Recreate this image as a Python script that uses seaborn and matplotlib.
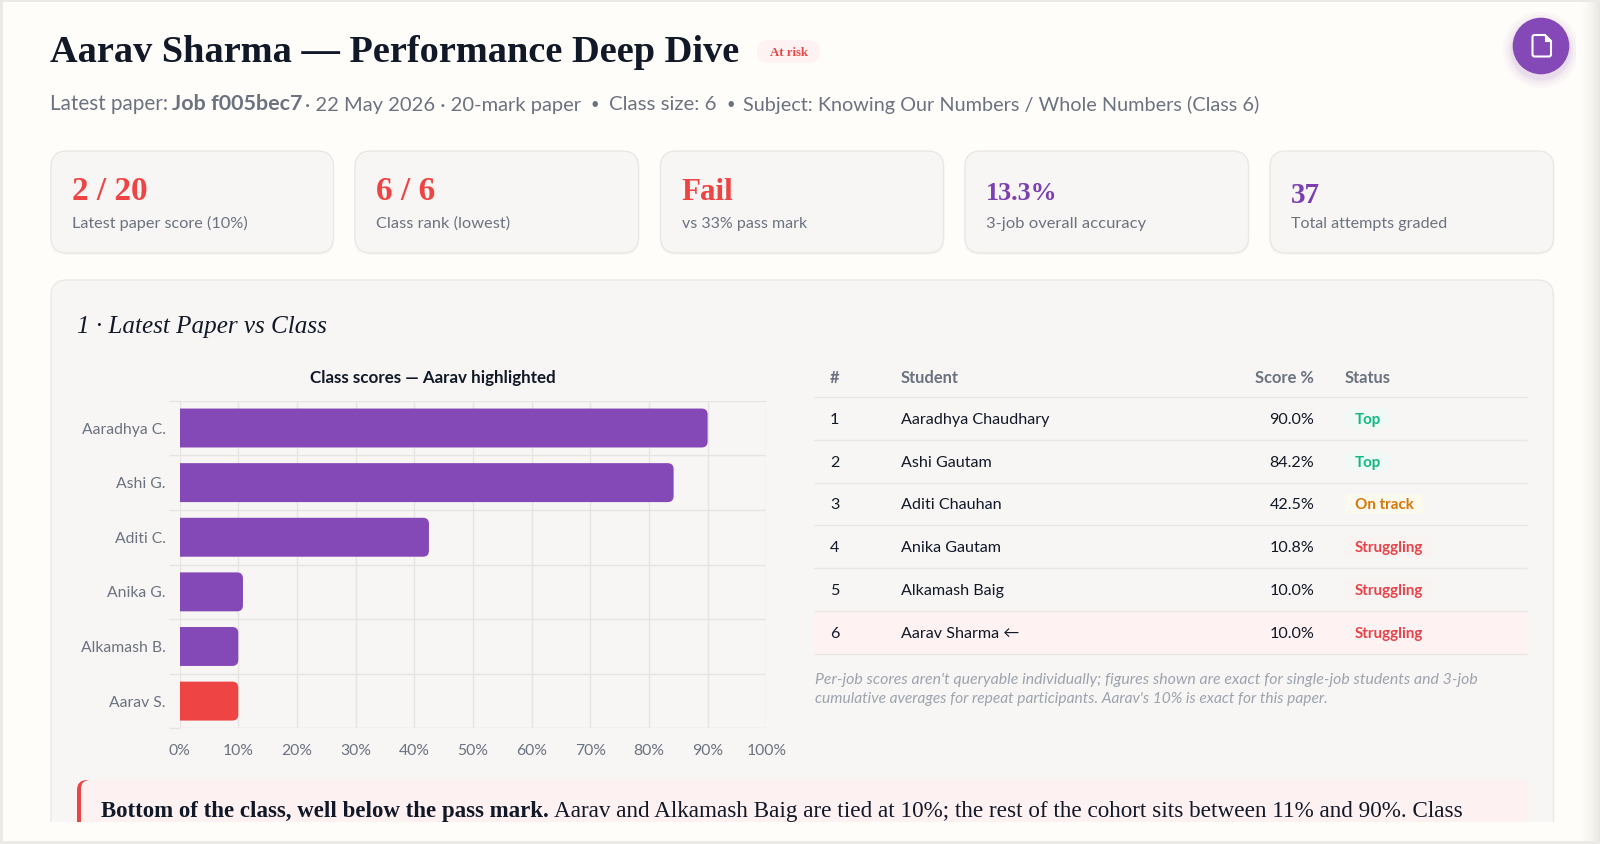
import numpy as np
import pandas as pd
import matplotlib
matplotlib.use("Agg")
import matplotlib.pyplot as plt
import seaborn as sns
from matplotlib.patches import FancyBboxPatch, Rectangle, Circle, PathPatch
from matplotlib.path import Path
from matplotlib.ticker import FixedLocator, FuncFormatter

# ---- data ----
short_names = ["Aaradhya C.", "Ashi G.", "Aditi C.", "Anika G.", "Alkamash B.", "Aarav S."]
full_names = ["Aaradhya Chaudhary", "Ashi Gautam", "Aditi Chauhan", "Anika Gautam", "Alkamash Baig", "Aarav Sharma ←"]
scores = [90.0, 84.2, 42.5, 10.8, 10.0, 10.0]
statuses = ["Top", "Top", "On track", "Struggling", "Struggling", "Struggling"]
x_ticks = [0, 10, 20, 30, 40, 50, 60, 70, 80, 90, 100]

stat_values = ["2 / 20", "6 / 6", "Fail", "13.3%", "37"]
stat_labels = ["Latest paper score (10%)", "Class rank (lowest)", "vs 33% pass mark",
               "3-job overall accuracy", "Total attempts graded"]

# ---- palette and fonts ----
PAGE = "#FFFDF9"
EDGE = "#ECEAE6"
CARD = "#F7F6F4"
LINE = "#E9E7E3"
GRID = "#E6E5E2"
INK = "#111827"
GRAY = "#6B7280"
MUTED = "#9CA3AF"
RED = "#EF4444"
PURPLE = "#8449B6"
PURPLE_TEXT = "#7B3FB2"
PINK = "#FEF2F2"
SANS = ["Lato", "DejaVu Sans"]
SERIF = ["Liberation Serif", "DejaVu Serif"]

sns.set_theme(style="white")
plt.rcParams["font.family"] = SANS

W, H = 1600, 844
fig = plt.figure(figsize=(16, 8.44), dpi=100, facecolor=PAGE)
bg = fig.add_axes([0, 0, 1, 1], zorder=0)
bg.set_xlim(0, W)
bg.set_ylim(H, 0)
bg.axis("off")
renderer = fig.canvas.get_renderer()


def size_for(s, width, **kw):
    """Font size (pt) at which s renders to the given pixel width."""
    t = bg.text(0, 0, s, fontsize=10, **kw)
    w = t.get_window_extent(renderer).width
    t.remove()
    return 10 * width / w


def label(x, y, s, width=None, size=None, color=INK, ha="left", **kw):
    if size is None:
        size = size_for(s, width, **kw)
    return bg.text(x, y, s, fontsize=size, color=color, ha=ha, va="baseline", **kw)


def box(x0, y0, x1, y1, r, fc, ec="none", lw=0, z=1, alpha=None):
    p = FancyBboxPatch((x0, y0), x1 - x0, y1 - y0, boxstyle=f"round,pad=0,rounding_size={r}",
                       fc=fc, ec=ec, lw=lw, zorder=z, alpha=alpha)
    bg.add_patch(p)
    return p


def rect(x0, y0, x1, y1, fc, z=1):
    bg.add_patch(Rectangle((x0, y0), x1 - x0, y1 - y0, fc=fc, ec="none", zorder=z))


# ---- window edges ----
rect(0, 0, W, 2, EDGE, z=20)
rect(0, 841, W, H, EDGE, z=20)
rect(0, 0, 3, H, EDGE, z=20)
bg.imshow(np.linspace(0, 1, 24)[None, :] ** 2.2, extent=(1576, 1600, H, 0), aspect="auto",
          cmap=matplotlib.colors.LinearSegmentedColormap.from_list("edge", [PAGE, "#E9E6E1"]),
          zorder=19, vmin=0, vmax=1)
bg.set_xlim(0, W)
bg.set_ylim(H, 0)

# ---- header ----
label(50, 62, "Aarav Sharma — Performance Deep Dive", width=693, family=SERIF, fontweight="bold")
box(757, 40, 820, 63, 11, PINK)
label(770, 56, "At risk", width=38, color=RED, family=SERIF, fontweight="bold")

sub_size = size_for("Latest paper: 22 May 2026", 246)
label(50, 110.5, "Latest paper:", size=sub_size, color=GRAY)
label(171.5, 110.5, "Job f005bec7", width=131, color=GRAY, fontweight="bold")
label(305, 110.5, "· 22 May 2026 · 20-mark paper", width=276.5, color=GRAY)
label(595, 109, "•", size=sub_size * 0.72, color=GRAY, ha="center")
label(609, 110.5, "Class size: 6", width=107, color=GRAY)
label(730.5, 109, "•", size=sub_size * 0.72, color=GRAY, ha="center")
label(743, 110.5, "Subject: Knowing Our Numbers / Whole Numbers (Class 6)", width=516, color=GRAY)

# action button
for grow, a in zip([10, 7, 4, 2], [0.03, 0.04, 0.05, 0.06]):
    bg.add_patch(Circle((1541, 50), 28.3 + grow, fc=PURPLE, ec="none", alpha=a, zorder=3))
bg.add_patch(Circle((1541, 46), 28.3, fc=PURPLE, ec="none", zorder=4))
doc = Path([(1545, 35), (1534.5, 35), (1532.5, 35), (1532.5, 37), (1532.5, 54.5), (1532.5, 56.5),
            (1534.5, 56.5), (1549, 56.5), (1551, 56.5), (1551, 54.5), (1551, 41), (1545, 35)],
           [Path.MOVETO, Path.LINETO, Path.CURVE3, Path.CURVE3, Path.LINETO, Path.CURVE3,
            Path.CURVE3, Path.LINETO, Path.CURVE3, Path.CURVE3, Path.LINETO, Path.CLOSEPOLY])
bg.add_patch(PathPatch(doc, fc="none", ec="white", lw=1.5, zorder=5))
fold = Path([(1545, 35), (1545, 41), (1551, 41), (1545, 35)],
            [Path.MOVETO, Path.LINETO, Path.LINETO, Path.CLOSEPOLY])
bg.add_patch(PathPatch(fold, fc="white", ec="white", lw=0.8, zorder=5))

# ---- stat cards ----
card_spans = [(51, 333.5), (355, 638.5), (660.5, 943.5), (965, 1248.5), (1270, 1553.5)]
value_widths = [76, 59, 52, 71, 29]
value_base = [200, 200, 200, 200, 203]
value_cols = [RED, RED, RED, PURPLE_TEXT, PURPLE_TEXT]
label_widths = [177, 134, 125, 159, 157]
for i, (x0, x1) in enumerate(card_spans):
    box(x0 - 1, 151, x1 + 1, 255, 16, "#000000", z=1, alpha=0.025)
    box(x0, 151, x1, 253, 16, CARD, ec=LINE, lw=0.9, z=2)
    tx = x0 + 21
    label(tx, value_base[i], stat_values[i], width=value_widths[i], color=value_cols[i],
          family=SERIF, fontweight="bold", zorder=3)
    label(tx, 228, stat_labels[i], width=label_widths[i], color=GRAY, zorder=3)

# ---- section panel ----
box(51, 280, 1553.5, 880, 16, CARD, ec=LINE, lw=0.9, z=2)
label(77, 332.5, "1 · Latest Paper vs Class", width=250, family=SERIF, fontstyle="italic", zorder=3)
label(309.5, 383.5, "Class scores — Aarav highlighted", width=246.5, fontweight="bold", zorder=3)

# ---- class table ----
line_ys = [397.2, 439.8, 482.5, 525.2, 568.2, 611.2, 653.5]
rect(814, line_ys[5], 1527, line_ys[6], PINK, z=3)
for y in line_ys:
    bg.plot([814, 1527], [y, y], color=LINE, lw=1.0, zorder=4, solid_capstyle="butt")

head = size_for("Student", 58.6, fontweight="bold")
label(830, 382.8, "#", size=head, color=GRAY, fontweight="bold", zorder=5)
label(901, 382.8, "Student", size=head, color=GRAY, fontweight="bold", zorder=5)
label(1313.8, 382.8, "Score %", size=head, color=GRAY, ha="right", fontweight="bold", zorder=5)
label(1344.5, 382.8, "Status", size=head, color=GRAY, fontweight="bold", zorder=5)

row_size = size_for("Aaradhya Chaudhary", 148)
pill_size = size_for("Struggling", 68, fontweight="bold")
status_style = {"Top": ("#F0F9F5", "#10B981", 1389),
                "On track": ("#FCF9EF", "#D97706", 1423),
                "Struggling": ("#F9F3F2", "#E8434A", 1433)}
for i, (name, score, status) in enumerate(zip(full_names, scores, statuses)):
    cy = (line_ys[i] + line_ys[i + 1]) / 2
    base = cy + 5.5
    label(830, base, str(i + 1), size=row_size, zorder=5)
    label(901, base, name, size=row_size, zorder=5)
    label(1314.5, base, f"{score:.1f}%", size=row_size, ha="right", zorder=5)
    fc, tc, right = status_style[status]
    if i < 5:
        box(1345, cy - 10, right, cy + 10, 6, fc, z=5)
    label(1355, base, status, size=pill_size, color=tc, fontweight="bold", zorder=6)

label(815, 684, "Per-job scores aren't queryable individually; figures shown are exact for single-job students and 3-job",
      width=660.5, color=MUTED, fontstyle="italic", zorder=5)
label(815, 703, "cumulative averages for repeat participants. Aarav's 10% is exact for this paper.",
      width=511.5, color=MUTED, fontstyle="italic", zorder=5)

# ---- callout, cut off by the scrolling region ----
box(77, 780, 130, 880, 10, RED, z=3)
box(81, 780, 1528, 880, 9, "#FEF1F1", z=4)
label(101, 817, "Bottom of the class, well below the pass mark.", width=448, family=SERIF, fontweight="bold", zorder=6)
label(554, 817, "Aarav and Alkamash Baig are tied at 10%; the rest of the cohort sits between 11% and 90%. Class",
      width=910.5, family=SERIF, zorder=6)
rect(3, 822, 1576, 841, PAGE, z=10)

# ---- bar chart ----
ax_x0, ax_x1, ax_y0, ax_y1 = 179.6, 766.3, 400.7, 728.4
ax = fig.add_axes([ax_x0 / W, 1 - ax_y1 / H, (ax_x1 - ax_x0) / W, (ax_y1 - ax_y0) / H], zorder=5)
ax.patch.set_alpha(0)

frame = pd.DataFrame({"student": short_names, "score": scores})
bar_colors = [PURPLE] * 5 + [RED]
sns.barplot(data=frame, x="score", y="student", hue="student", palette=bar_colors, legend=False,
            saturation=1, width=0.713, orient="h", ax=ax, zorder=3)
ax.set_xlim(0, 100)
ax.set_ylim(5.5, -0.5)
ax.set_xlabel("")
ax.set_ylabel("")

# square left ends, rounded right ends
px_x = 100 / (ax_x1 - ax_x0)
px_y = 6 / (ax_y1 - ax_y0)
rx, ry = 6 * px_x, 6 * px_y
for bar in list(ax.patches):
    x0, y0 = bar.get_x(), bar.get_y()
    x1, y1 = x0 + bar.get_width(), y0 + bar.get_height()
    outline = Path([(x0, y0), (x1 - rx, y0), (x1, y0), (x1, y0 + ry), (x1, y1 - ry), (x1, y1),
                    (x1 - rx, y1), (x0, y1), (x0, y0)],
                   [Path.MOVETO, Path.LINETO, Path.CURVE3, Path.CURVE3, Path.LINETO, Path.CURVE3,
                    Path.CURVE3, Path.LINETO, Path.CLOSEPOLY])
    ax.add_patch(PathPatch(outline, fc=bar.get_facecolor(), ec="none", zorder=3))
    bar.remove()

for s in ax.spines.values():
    s.set_visible(False)
tick_size = size_for("Aaradhya C.", 84)
ax.xaxis.set_major_locator(FixedLocator(x_ticks))
ax.xaxis.set_major_formatter(FuncFormatter(lambda v, _: f"{v:.0f}%"))
ax.yaxis.set_minor_locator(FixedLocator(np.arange(-0.5, 6, 1)))
ax.grid(True, axis="x", which="major", color=GRID, lw=1.0, zorder=1)
ax.grid(True, axis="y", which="minor", color=GRID, lw=1.0, zorder=1)
ax.grid(False, axis="y", which="major")
ax.set_axisbelow(True)
ax.tick_params(axis="x", which="major", length=0, pad=11.5, labelsize=tick_size, labelcolor=GRAY)
ax.tick_params(axis="y", which="major", length=0, pad=10, labelsize=tick_size, labelcolor=GRAY)
ax.tick_params(axis="y", which="minor", left=True, length=8, width=1.0, color=GRID)

fig.savefig("out.png", dpi=100, facecolor=PAGE)
